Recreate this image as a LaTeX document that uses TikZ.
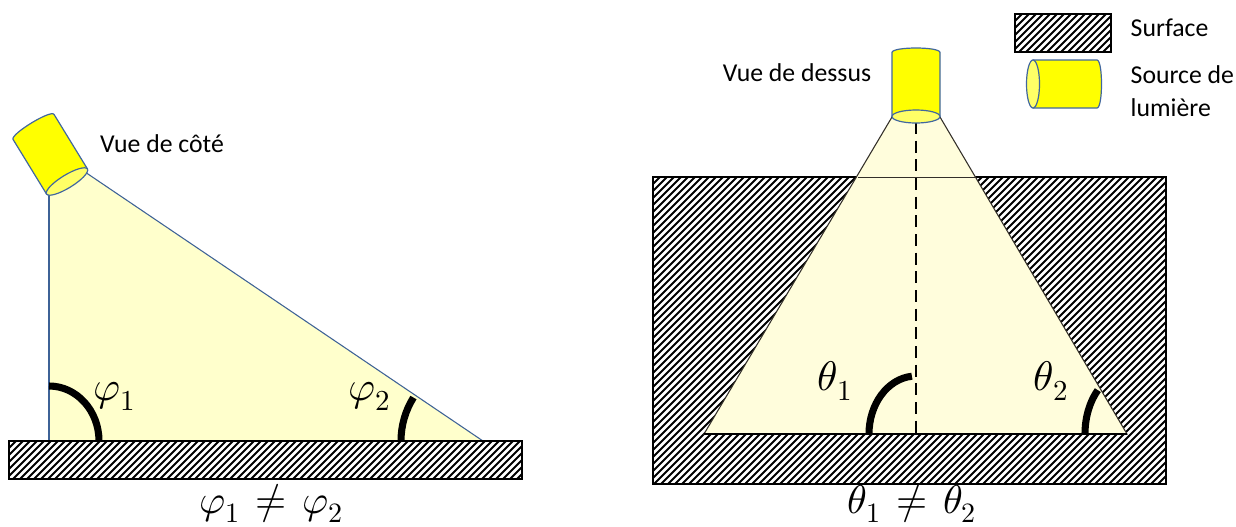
\documentclass[tikz,border=0pt]{standalone}
\usepackage{unicode-math}
\setmainfont{Carlito}
\setmathfont{Latin Modern Math}
\definecolor{lpbody}{HTML}{FFFF00}
\definecolor{lpmouth}{HTML}{FFFF66}
\definecolor{lpedge}{HTML}{41679F}
\definecolor{bmside}{HTML}{FFFFCC}
\definecolor{bmtop}{HTML}{FFFDDC}
\definecolor{bmedge}{HTML}{3E6296}
\tikzset{
  surf/.style   = {draw=black, line width=1.0pt},
  hatch/.style  = {black, line width=1.45pt},
  lamp/.style   = {draw=lpedge, line width=0.9pt, fill=lpbody, line join=round},
  mouth/.style  = {draw=lpedge, line width=0.9pt, fill=lpmouth},
  angl/.style   = {draw=black, line width=5.3pt},
  lbl/.style    = {font=\fontsize{19.3}{24.75}\selectfont, align=left},
  sym/.style    = {font=\fontsize{31}{36}\selectfont, anchor=base},
  symb/.style   = {font=\fontsize{30}{36}\selectfont, anchor=base},
}
% \surfrect{x1}{y1}{x2}{y2}: hatched rectangle, stripes every 7 px along x
\newcommand{\surfrect}[4]{
  \begin{scope}
    \clip (#1,#2) rectangle (#3,#4);
    \foreach \i in {0,...,120}{
      \draw[hatch] ({#1-(#4-#2)+7*\i},#4) -- ({#1+7*\i},#2);
    }
  \end{scope}
  \draw[surf] (#1,#2) rectangle (#3,#4);
}
% \lampat{x}{y}{rotation}: mouth centre at x,y, body going "up" before rotation
\newcommand{\lampat}[3]{
  \begin{scope}[shift={(#1,#2)}, rotate=#3]
    \draw[lamp] (-24,0) -- (-24,-64) .. controls (-24,-70) and (24,-70) .. (24,-64)
      -- (24,0) -- cycle;
    \draw[mouth] (0,0) ellipse [x radius=24, y radius=6.5];
  \end{scope}
}
\begin{document}
\begin{tikzpicture}[x=0.75pt,y=-0.75pt]
\useasboundingbox (0,0) rectangle (1236,526);

% -- side view -----------------------------------------------------------------
\fill[bmside] (49,195) -- (49,441) -- (483,441) -- (85,172) -- cycle;
\draw[bmedge, line width=0.8pt] (49,195) -- (49,441);
\draw[bmedge, line width=0.8pt] (483,441) -- (85,172);
\surfrect{9}{441}{522}{479}
\lampat{67}{181.5}{31.5}
\draw[angl] (99,441) arc [start angle=0, end angle=-90, x radius=50, y radius=55];
\draw[angl] (401,441) arc [start angle=180, end angle=212, radius=82];

\node[lbl] (side) at (162,144) {Vue de côté};
\node[sym] (phione) at (115,400) {$\varphi_1$};
\node[sym] (phitwo) at (370,400) {$\varphi_2$};
\node[symb] (phine) at (271,513) {$\varphi_1 \mskip 2mu ≠ \mskip 2mu \varphi_2$};

% -- top view ------------------------------------------------------------------
\surfrect{653}{177}{1166}{484}
\draw[draw=black!85!olive, fill=bmtop, line width=0.8pt]
  (892,117) -- (704,434) -- (1127,434) -- (940,117) -- cycle;
\draw[black!85!olive, line width=0.7pt] (858,177) -- (975,177);
\draw[black, line width=1.7pt] (704,434) -- (1127,434);
\draw[black, line width=1.2pt, dashed, dash pattern=on 9pt off 5pt] (916,122) -- (916,434);
\lampat{916}{116.5}{0}
\draw[angl] (869,434) arc [start angle=180, end angle=265, x radius=47, y radius=58];
\draw[angl] (1085,434) arc [start angle=180, end angle=226, x radius=42, y radius=61];

\node[lbl] (top) at (797,73) {Vue de dessus};
\node[sym] (thone) at (835,390) {$\theta_1$};
\node[sym] (thtwo) at (1051,390) {$\theta_2$};
\node[symb] (thne) at (912,513) {$\theta_1 \mskip 2mu ≠ \mskip 2mu \theta_2$};

% -- legend --------------------------------------------------------------------
\surfrect{1015}{14}{1111}{52}
\lampat{1033}{84}{-90}
\node[lbl, anchor=west] (lgsurf) at (1126,28) {Surface};
\node[lbl, anchor=west] (lgsrc) at (1126,91.5) {Source de\\lumière};
\end{tikzpicture}
\end{document}
